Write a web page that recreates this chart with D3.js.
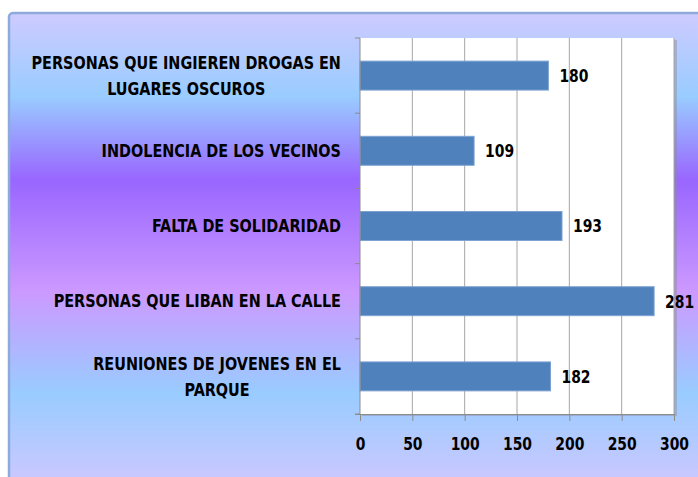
<!DOCTYPE html>
<html>
<head>
<meta charset="utf-8">
<script src="https://cdn.jsdelivr.net/npm/d3@7"></script>
<style>
  html, body { margin: 0; padding: 0; background: #ffffff; }
  svg { display: block; }
  text { font-family: "DejaVu Sans Condensed", "DejaVu Sans", sans-serif; font-stretch: condensed; fill: #000; }
</style>
</head>
<body>
<svg id="chart" width="698" height="477"></svg>
<script>
// Causes listed top to bottom, with their counts
const categories = [
  "PERSONAS QUE INGIEREN DROGAS EN\nLUGARES OSCUROS",
  "INDOLENCIA DE LOS VECINOS",
  "FALTA DE SOLIDARIDAD",
  "PERSONAS QUE LIBAN EN LA CALLE",
  "REUNIONES DE JOVENES EN EL\nPARQUE"
];
const values = [180, 109, 193, 281, 182];
const xTickValues = [0, 50, 100, 150, 200, 250, 300];

const svg = d3.select("#chart");
const W = 698, H = 477;

// narrow lettering: glyphs squeezed horizontally
const labelSX = 0.915;
const numSX = 0.86;

// Chart area background: vertical multi-stop gradient
const defs = svg.append("defs");
const bg = defs.append("linearGradient").attr("id", "bgGrad")
  .attr("gradientUnits", "userSpaceOnUse")
  .attr("x1", 0).attr("y1", 13).attr("x2", 0).attr("y2", H);
[[0, "#cecbff"], [0.18, "#99ccff"], [0.36, "#9966ff"], [0.6, "#cc99ff"], [0.82, "#99ccff"], [1, "#c8c8ff"]]
  .forEach(([o, c]) => bg.append("stop").attr("offset", o).attr("stop-color", c));

svg.append("rect")
  .attr("x", 9).attr("y", 13).attr("width", W + 20).attr("height", H + 20)
  .attr("rx", 4)
  .attr("fill", "url(#bgGrad)")
  .attr("stroke", "#8eaadb").attr("stroke-width", 2.5);

// Plot area
const plot = { left: 360, right: 674, top: 38, bottom: 414 };

const x = d3.scaleLinear().domain([0, 300]).range([plot.left, plot.right]);
const y = d3.scaleBand().domain(categories).range([plot.top, plot.bottom]).padding(0);

// soft shadow on the right of the plot area
svg.append("rect")
  .attr("x", plot.left + 2).attr("y", plot.top + 2)
  .attr("width", plot.right - plot.left + 1).attr("height", plot.bottom - plot.top)
  .attr("fill", "#8c8c9c").attr("opacity", 0.45);
svg.append("rect")
  .attr("x", plot.left).attr("y", plot.top)
  .attr("width", plot.right - plot.left).attr("height", plot.bottom - plot.top)
  .attr("fill", "#ffffff");

// vertical gridlines
svg.append("g").selectAll("line")
  .data(xTickValues.slice(1))
  .join("line")
  .attr("x1", d => x(d)).attr("x2", d => x(d))
  .attr("y1", plot.top).attr("y2", plot.bottom)
  .attr("stroke", "#a6a6a6").attr("stroke-width", 1);

// bars
const barH = y.bandwidth() * 0.385;
svg.append("g").selectAll("rect")
  .data(values)
  .join("rect")
  .attr("x", x(0))
  .attr("y", (d, i) => y(categories[i]) + (y.bandwidth() - barH) / 2)
  .attr("width", d => x(d) - x(0))
  .attr("height", barH)
  .attr("fill", "#4f81bd")
  .attr("stroke", "#7da2d2").attr("stroke-width", 1);

// value labels
svg.append("g").selectAll("text")
  .data(values)
  .join("text")
  .attr("transform", (d, i) => `translate(${x(d) + 11},${y(categories[i]) + y.bandwidth() / 2 + 1}) scale(${numSX},1)`)
  .attr("dominant-baseline", "middle")
  .attr("font-size", 18)
  .attr("font-weight", "bold")
  .text(d => d);

// x axis
const xAxis = d3.axisBottom(x).tickValues(xTickValues).tickSize(7).tickPadding(16).tickFormat(d3.format("d"));
const gx = svg.append("g").attr("transform", `translate(0,${plot.bottom})`).call(xAxis);
gx.select(".domain").attr("stroke", "#8c8c8c").attr("d", `M${plot.left - 5},0.5H${plot.right}`);
gx.selectAll(".tick line").attr("stroke", "#8c8c8c");
gx.selectAll(".tick text")
  .attr("font-family", null)
  .attr("font-size", 18).attr("font-weight", "bold").attr("fill", "#000")
  .attr("transform", `scale(${numSX},1)`);

// y axis: line with ticks at category boundaries
const gy = svg.append("g");
gy.append("line")
  .attr("x1", plot.left).attr("x2", plot.left)
  .attr("y1", plot.top).attr("y2", plot.bottom)
  .attr("stroke", "#8c8c8c");
const bounds = categories.map(c => y(c)).concat([y(categories[categories.length - 1]) + y.bandwidth()]);
gy.selectAll("line.tk")
  .data(bounds)
  .join("line").attr("class", "tk")
  .attr("x1", plot.left - 5).attr("x2", plot.left)
  .attr("y1", d => d).attr("y2", d => d)
  .attr("stroke", "#8c8c8c");

// category labels, each block centred and right-aligned to the axis
const labelRight = 341;
const lineGap = 26;
categories.forEach((c) => {
  const lines = c.split("\n");
  const g = svg.append("g");
  const cy = y(c) + y.bandwidth() / 2;
  const texts = lines.map((ln, j) => g.append("text")
    .attr("dominant-baseline", "middle")
    .attr("text-anchor", "middle")
    .attr("font-size", 17.5)
    .attr("font-weight", "bold")
    .attr("data-cy", cy + (j - (lines.length - 1) / 2) * lineGap + 1)
    .text(ln));
  const maxW = d3.max(texts, t => t.node().getComputedTextLength()) * labelSX;
  texts.forEach(t => t.attr("transform",
    `translate(${labelRight - maxW / 2},${t.attr("data-cy")}) scale(${labelSX},1)`));
});
</script>
</body>
</html>
